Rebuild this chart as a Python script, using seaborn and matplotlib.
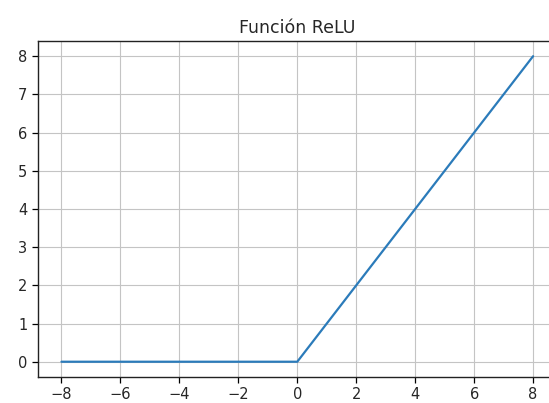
import matplotlib
matplotlib.use("Agg")
import matplotlib.pyplot as plt
import seaborn as sns
import pandas as pd

# valores (ReLU en enteros)
x_vals = [-8, -7, -6, -5, -4, -3, -2, -1, 0, 1, 2, 3, 4, 5, 6, 7, 8]
y_vals = [0, 0, 0, 0, 0, 0, 0, 0, 0, 1, 2, 3, 4, 5, 6, 7, 8]
x_ticks = [-8, -6, -4, -2, 0, 2, 4, 6, 8]
y_ticks = [0, 1, 2, 3, 4, 5, 6, 7, 8]

df = pd.DataFrame({"x": x_vals, "y": y_vals})

sns.set_theme(style="ticks")
plt.rcParams['font.family'] = ['DejaVu Sans']

fig = plt.figure(figsize=(5.49, 4.03), dpi=100)
ax = fig.add_axes([0.069, 0.0645, 0.945, 0.834])
sns.lineplot(data=df, x="x", y="y", ax=ax, color="#2b7bba", linewidth=1.6)

ax.set_xticks(x_ticks)
ax.set_yticks(y_ticks)
ax.set_xticklabels([f"\u2212{abs(t)}" if t < 0 else str(t) for t in x_ticks])
ax.tick_params(labelsize=10.5, length=4, color="black", width=0.9)
ax.grid(True, color="#c4c4c4", linewidth=0.8)
for s in ax.spines.values():
    s.set_color("#222222")
    s.set_linewidth(1.0)
ax.set_xlabel("")
ax.set_ylabel("")
ax.set_title("Función ReLU", fontsize=12.5, pad=6)

fig.savefig("out.png", dpi=100)
plt.close(fig)
